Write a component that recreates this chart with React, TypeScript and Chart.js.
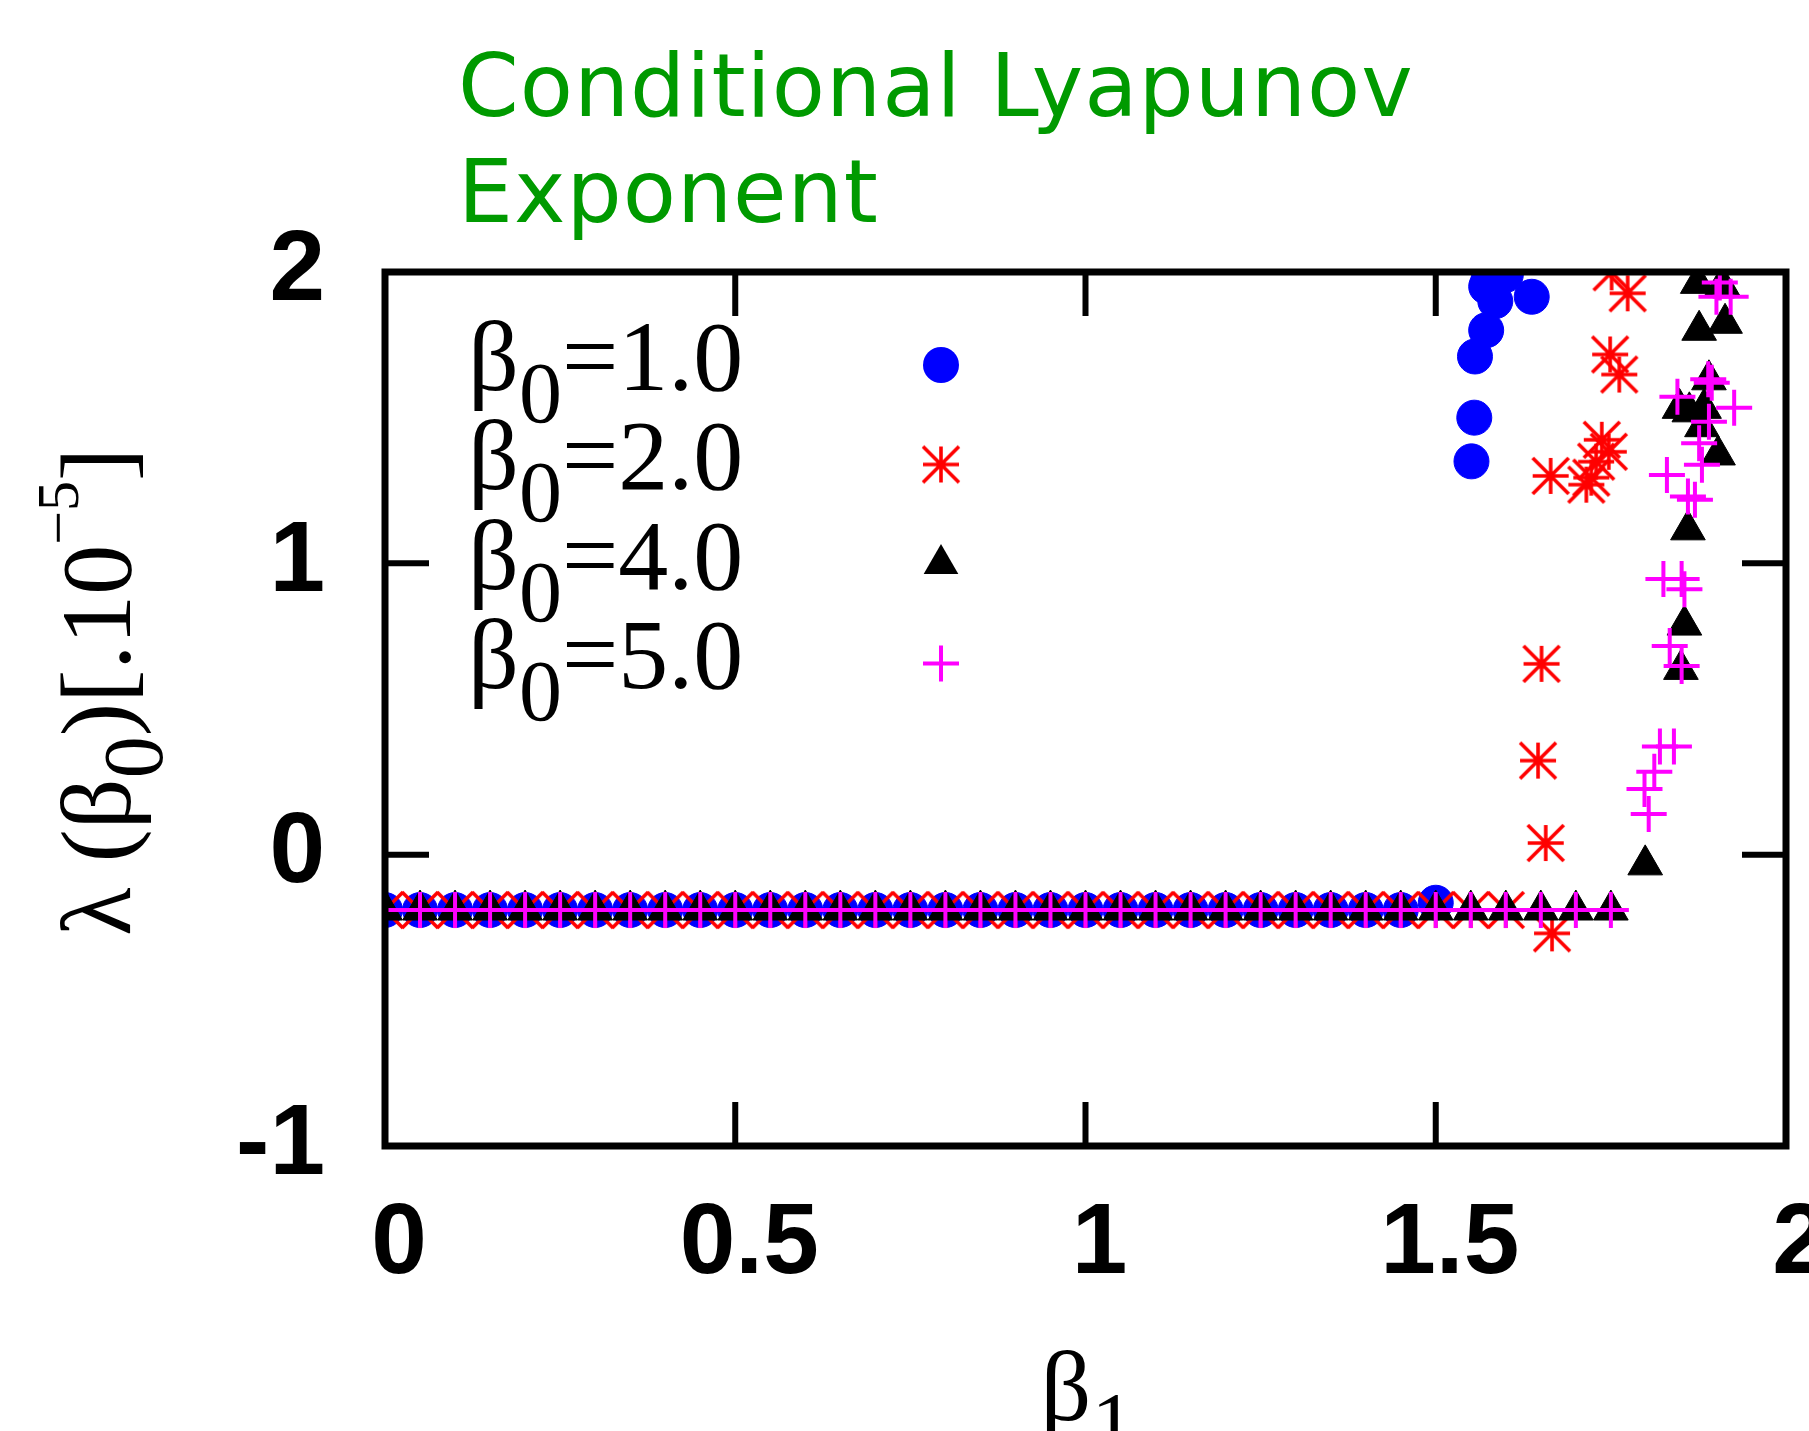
import React, { useEffect, useRef } from 'react';
import { Chart, registerables } from 'chart.js';

Chart.register(...registerables);

// ---- axis ticks ----
const xTickValues = [0, 0.5, 1, 1.5, 2];
const xTickLabels = ['0', '0.5', '1', '1.5', '2'];
const yTickValues = [-1, 0, 1, 2];
const yTickLabels = ['-1', '0', '1', '2'];

// ---- legend / series names ----
const seriesLabels = ['β0=1.0', 'β0=2.0', 'β0=4.0', 'β0=5.0'];
const legendValueText = ['=1.0', '=2.0', '=4.0', '=5.0'];
const titleLines = ['Conditional Lyapunov', 'Exponent'];

// ---- series beta0 = 1.0 ----
const beta1_s1 = [0, 0.05, 0.1, 0.15, 0.2, 0.25, 0.3, 0.35, 0.4, 0.45, 0.5, 0.55, 0.6, 0.65, 0.7, 0.75, 0.8, 0.85, 0.9, 0.95, 1, 1.05, 1.1, 1.15, 1.2, 1.25, 1.3, 1.35, 1.4, 1.45,
  1.5, 1.551, 1.555, 1.556, 1.572, 1.572, 1.585, 1.575, 1.6, 1.59, 1.637];
const lambda_s1 = [-0.19, -0.19, -0.19, -0.19, -0.19, -0.19, -0.19, -0.19, -0.19, -0.19, -0.19, -0.19, -0.19, -0.19, -0.19, -0.19, -0.19, -0.19, -0.19, -0.19, -0.19, -0.19, -0.19, -0.19, -0.19, -0.19, -0.19, -0.19, -0.19, -0.19,
  -0.165, 1.35, 1.5, 1.71, 1.8, 1.95, 1.9, 1.97, 1.99, 2.01, 1.915];

// ---- series beta0 = 2.0 ----
const beta1_s2 = [0, 0.05, 0.1, 0.15, 0.2, 0.25, 0.3, 0.35, 0.4, 0.45, 0.5, 0.55, 0.6, 0.65, 0.7, 0.75, 0.8, 0.85, 0.9, 0.95, 1, 1.05, 1.1, 1.15, 1.2, 1.25, 1.3, 1.35, 1.4, 1.45, 1.5, 1.55, 1.6,
  1.666, 1.657, 1.646, 1.651, 1.664, 1.715, 1.722, 1.729, 1.737, 1.747, 1.749, 1.762, 1.751, 1.774];
const lambda_s2 = [-0.19, -0.19, -0.19, -0.19, -0.19, -0.19, -0.19, -0.19, -0.19, -0.19, -0.19, -0.19, -0.19, -0.19, -0.19, -0.19, -0.19, -0.19, -0.19, -0.19, -0.19, -0.19, -0.19, -0.19, -0.19, -0.19, -0.19, -0.19, -0.19, -0.19, -0.19, -0.19, -0.19,
  -0.27, 0.04, 0.323, 0.655, 1.3, 1.27, 1.294, 1.349, 1.424, 1.383, 1.717, 1.648, 1.999, 1.927];

// ---- series beta0 = 4.0 ----
const beta1_s3 = [0, 0.05, 0.1, 0.15, 0.2, 0.25, 0.3, 0.35, 0.4, 0.45, 0.5, 0.55, 0.6, 0.65, 0.7, 0.75, 0.8, 0.85, 0.9, 0.95, 1, 1.05, 1.1, 1.15, 1.2, 1.25, 1.3, 1.35, 1.4, 1.45, 1.5, 1.55, 1.6, 1.65, 1.7, 1.75,
  1.799, 1.85, 1.855, 1.86, 1.848, 1.862, 1.883, 1.88, 1.89, 1.903, 1.876, 1.913, 1.874, 1.909];
const lambda_s3 = [-0.19, -0.19, -0.19, -0.19, -0.19, -0.19, -0.19, -0.19, -0.19, -0.19, -0.19, -0.19, -0.19, -0.19, -0.19, -0.19, -0.19, -0.19, -0.19, -0.19, -0.19, -0.19, -0.19, -0.19, -0.19, -0.19, -0.19, -0.19, -0.19, -0.19, -0.19, -0.19, -0.19, -0.19, -0.19, -0.19,
  -0.035, 0.636, 0.788, 1.115, 1.532, 1.52, 1.532, 1.469, 1.63, 1.372, 1.8, 1.824, 1.961, 1.955];

// ---- series beta0 = 5.0 ----
const beta1_s4 = [0, 0.05, 0.1, 0.15, 0.2, 0.25, 0.3, 0.35, 0.4, 0.45, 0.5, 0.55, 0.6, 0.65, 0.7, 0.75, 0.8, 0.85, 0.9, 0.95, 1, 1.05, 1.1, 1.15, 1.2, 1.25, 1.3, 1.35, 1.4, 1.45, 1.5, 1.55, 1.6, 1.65, 1.7, 1.75,
  1.804, 1.798, 1.812, 1.82, 1.84, 1.834, 1.851, 1.825, 1.851, 1.855, 1.83, 1.86, 1.87, 1.876, 1.88, 1.89, 1.926, 1.845, 1.889, 1.894, 1.9055, 1.9007, 1.921];
const lambda_s4 = [-0.19, -0.19, -0.19, -0.19, -0.19, -0.19, -0.19, -0.19, -0.19, -0.19, -0.19, -0.19, -0.19, -0.19, -0.19, -0.19, -0.19, -0.19, -0.19, -0.19, -0.19, -0.19, -0.19, -0.19, -0.19, -0.19, -0.19, -0.19, -0.19, -0.19, -0.19, -0.19, -0.19, -0.19, -0.19, -0.19,
  0.14, 0.225, 0.285, 0.371, 0.371, 0.716, 0.648, 0.946, 0.946, 0.911, 1.303, 1.229, 1.218, 1.412, 1.338, 1.486, 1.534, 1.572, 1.632, 1.62, 1.964, 1.915, 1.915];

const SERIF = '"Liberation Serif", "DejaVu Serif", serif';
const SANS = '"Liberation Sans", Arial, sans-serif';
const TITLE_FONT = '"DejaVu Sans", Verdana, sans-serif';

type Part = { t: string; s: number; dy: number };

function drawParts(ctx: CanvasRenderingContext2D, parts: Part[], x: number, y: number) {
  let cx = x;
  for (const p of parts) {
    ctx.font = `${p.s}px ${SERIF}`;
    ctx.fillText(p.t, cx, y + p.dy);
    cx += ctx.measureText(p.t).width;
  }
}

function makeStar(color: string): HTMLCanvasElement {
  const c = document.createElement('canvas');
  c.width = 42;
  c.height = 42;
  const g = c.getContext('2d')!;
  const m = 21;
  const r = 18;
  g.strokeStyle = color;
  g.lineWidth = 3.6;
  g.beginPath();
  g.moveTo(m - r, m); g.lineTo(m + r, m);
  g.moveTo(m, m - r); g.lineTo(m, m + r);
  g.moveTo(m - r, m - r); g.lineTo(m + r, m + r);
  g.moveTo(m + r, m - r); g.lineTo(m - r, m + r);
  g.stroke();
  return c;
}

function toPoints(xs: number[], ys: number[]) {
  return xs.map((x, i) => ({ x, y: ys[i] }));
}

export default function App() {
  const ref = useRef<HTMLCanvasElement | null>(null);

  useEffect(() => {
    if (!ref.current) return;
    const star = makeStar('#ff0000');

    const markerDraw = (ctx: CanvasRenderingContext2D, i: number, x: number, y: number) => {
      ctx.save();
      if (i === 0) {
        ctx.fillStyle = '#0000ff';
        ctx.beginPath();
        ctx.arc(x, y, 18, 0, Math.PI * 2);
        ctx.fill();
      } else if (i === 1) {
        ctx.drawImage(star, x - star.width / 2, y - star.height / 2);
      } else if (i === 2) {
        const r = 20;
        ctx.fillStyle = '#000000';
        ctx.beginPath();
        ctx.moveTo(x, y - r);
        ctx.lineTo(x + Math.sin((2 * Math.PI) / 3) * r, y + r / 2);
        ctx.lineTo(x - Math.sin((2 * Math.PI) / 3) * r, y + r / 2);
        ctx.closePath();
        ctx.fill();
      } else {
        ctx.strokeStyle = '#ff00ff';
        ctx.lineWidth = 4;
        ctx.beginPath();
        ctx.moveTo(x - 18, y); ctx.lineTo(x + 18, y);
        ctx.moveTo(x, y - 18); ctx.lineTo(x, y + 18);
        ctx.stroke();
      }
      ctx.restore();
    };

    const framePlugin = {
      id: 'gnuplotFrame',
      afterDatasetsDraw(chart: any) {
        const { ctx, chartArea: ca } = chart;
        const xs = chart.scales.x;
        const ys = chart.scales.y;
        ctx.save();
        ctx.strokeStyle = '#000';
        ctx.lineWidth = 7;
        ctx.strokeRect(ca.left, ca.top, ca.right - ca.left, ca.bottom - ca.top);
        ctx.lineWidth = 6;
        const tl = 44;
        ctx.beginPath();
        xTickValues.slice(1, -1).forEach((v) => {
          const px = xs.getPixelForValue(v);
          ctx.moveTo(px, ca.top); ctx.lineTo(px, ca.top + tl);
          ctx.moveTo(px, ca.bottom); ctx.lineTo(px, ca.bottom - tl);
        });
        yTickValues.slice(1, -1).forEach((v) => {
          const py = ys.getPixelForValue(v);
          ctx.moveTo(ca.left, py); ctx.lineTo(ca.left + tl, py);
          ctx.moveTo(ca.right, py); ctx.lineTo(ca.right - tl, py);
        });
        ctx.stroke();
        ctx.restore();
      },
      afterDraw(chart: any) {
        const { ctx, chartArea: ca } = chart;
        ctx.save();
        ctx.textAlign = 'left';
        ctx.textBaseline = 'alphabetic';
        // title
        ctx.fillStyle = '#009a00';
        ctx.font = `87px ${TITLE_FONT}`;
        try { (ctx as any).letterSpacing = '1px'; } catch (e) { /* ignore */ }
        ctx.fillText(titleLines[0], ca.left + 73, 116);
        ctx.fillText(titleLines[1], ca.left + 73, 222);
        try { (ctx as any).letterSpacing = '0px'; } catch (e) { /* ignore */ }
        // legend
        ctx.fillStyle = '#000';
        for (let i = 0; i < 4; i++) {
          drawParts(ctx, [
            { t: 'β', s: 100, dy: 0 },
            { t: '0', s: 86, dy: 32 },
            { t: legendValueText[i], s: 100, dy: 0 },
          ], ca.left + 83, ca.top + 118 + i * 99.3);
          markerDraw(ctx, i, ca.left + 556, ca.top + 93 + i * 99.5);
        }
        // x title
        drawParts(ctx, [
          { t: 'β', s: 100, dy: 0 },
          { t: '1', s: 86, dy: 32 },
        ], (ca.left + ca.right) / 2 - 45, 1420);
        // y title (rotated)
        ctx.translate(130, 936);
        ctx.rotate(-Math.PI / 2);
        drawParts(ctx, [
          { t: 'λ (β', s: 100, dy: 0 },
          { t: '0', s: 84, dy: 32 },
          { t: ')[.10', s: 100, dy: 0 },
          { t: '−5', s: 60, dy: -52 },
          { t: ']', s: 100, dy: 0 },
        ], 0, 0);
        ctx.restore();
      },
    };

    const tickFont = { family: SANS, size: 100, weight: 'bold' as const };

    const chart = new Chart(ref.current, {
      type: 'scatter',
      data: {
        datasets: [
          {
            label: seriesLabels[0],
            data: toPoints(beta1_s1, lambda_s1),
            pointStyle: 'circle',
            pointRadius: 17.5,
            pointBorderWidth: 1,
            backgroundColor: '#0000ff',
            borderColor: '#0000ff',
            clip: 0,
            order: 4,
          },
          {
            label: seriesLabels[1],
            data: toPoints(beta1_s2, lambda_s2),
            pointStyle: star,
            pointRadius: 18,
            backgroundColor: '#ff0000',
            borderColor: '#ff0000',
            order: 3,
          },
          {
            label: seriesLabels[2],
            data: toPoints(beta1_s3, lambda_s3),
            pointStyle: 'triangle',
            pointRadius: 20,
            pointBorderWidth: 1,
            backgroundColor: '#000000',
            borderColor: '#000000',
            order: 2,
          },
          {
            label: seriesLabels[3],
            data: toPoints(beta1_s4, lambda_s4),
            pointStyle: 'cross',
            pointRadius: 18,
            pointBorderWidth: 4,
            backgroundColor: '#ff00ff',
            borderColor: '#ff00ff',
            order: 1,
          },
        ] as any,
      },
      options: {
        responsive: false,
        animation: false,
        events: [],
        layout: { padding: { top: 272, right: 23, left: 0, bottom: 0 } },
        plugins: {
          legend: { display: false },
          title: { display: false },
          tooltip: { enabled: false },
        },
        scales: {
          x: {
            type: 'linear',
            position: 'bottom',
            min: 0,
            max: 2,
            grid: { display: false, drawTicks: false },
            border: { display: false },
            ticks: {
              font: tickFont,
              color: '#000',
              padding: 39,
              labelOffset: 14,
              autoSkip: false,
              maxRotation: 0,
              callback: (_v: any, i: number) => xTickLabels[i],
            },
            afterBuildTicks: (s: any) => {
              s.ticks = xTickValues.map((v) => ({ value: v }));
            },
            afterFit: (s: any) => {
              s.height = 285;
              s.paddingLeft = 0;
              s.paddingRight = 0;
            },
          },
          y: {
            type: 'linear',
            position: 'left',
            min: -1,
            max: 2,
            grid: { display: false, drawTicks: false },
            border: { display: false },
            ticks: {
              font: tickFont,
              color: '#000',
              padding: 60,
              autoSkip: false,
              callback: (_v: any, i: number) => yTickLabels[i],
            },
            afterBuildTicks: (s: any) => {
              s.ticks = yTickValues.map((v) => ({ value: v }));
            },
            afterFit: (s: any) => {
              s.width = 385;
              s.paddingTop = 0;
              s.paddingBottom = 0;
            },
          },
        },
      } as any,
      plugins: [framePlugin],
    });

    return () => chart.destroy();
  }, []);

  return (
    <div style={{ position: 'absolute', left: 0, top: 0, width: 1809, height: 1431, background: '#fff' }}>
      <canvas ref={ref} width={1809} height={1431} style={{ display: 'block' }} />
    </div>
  );
}
